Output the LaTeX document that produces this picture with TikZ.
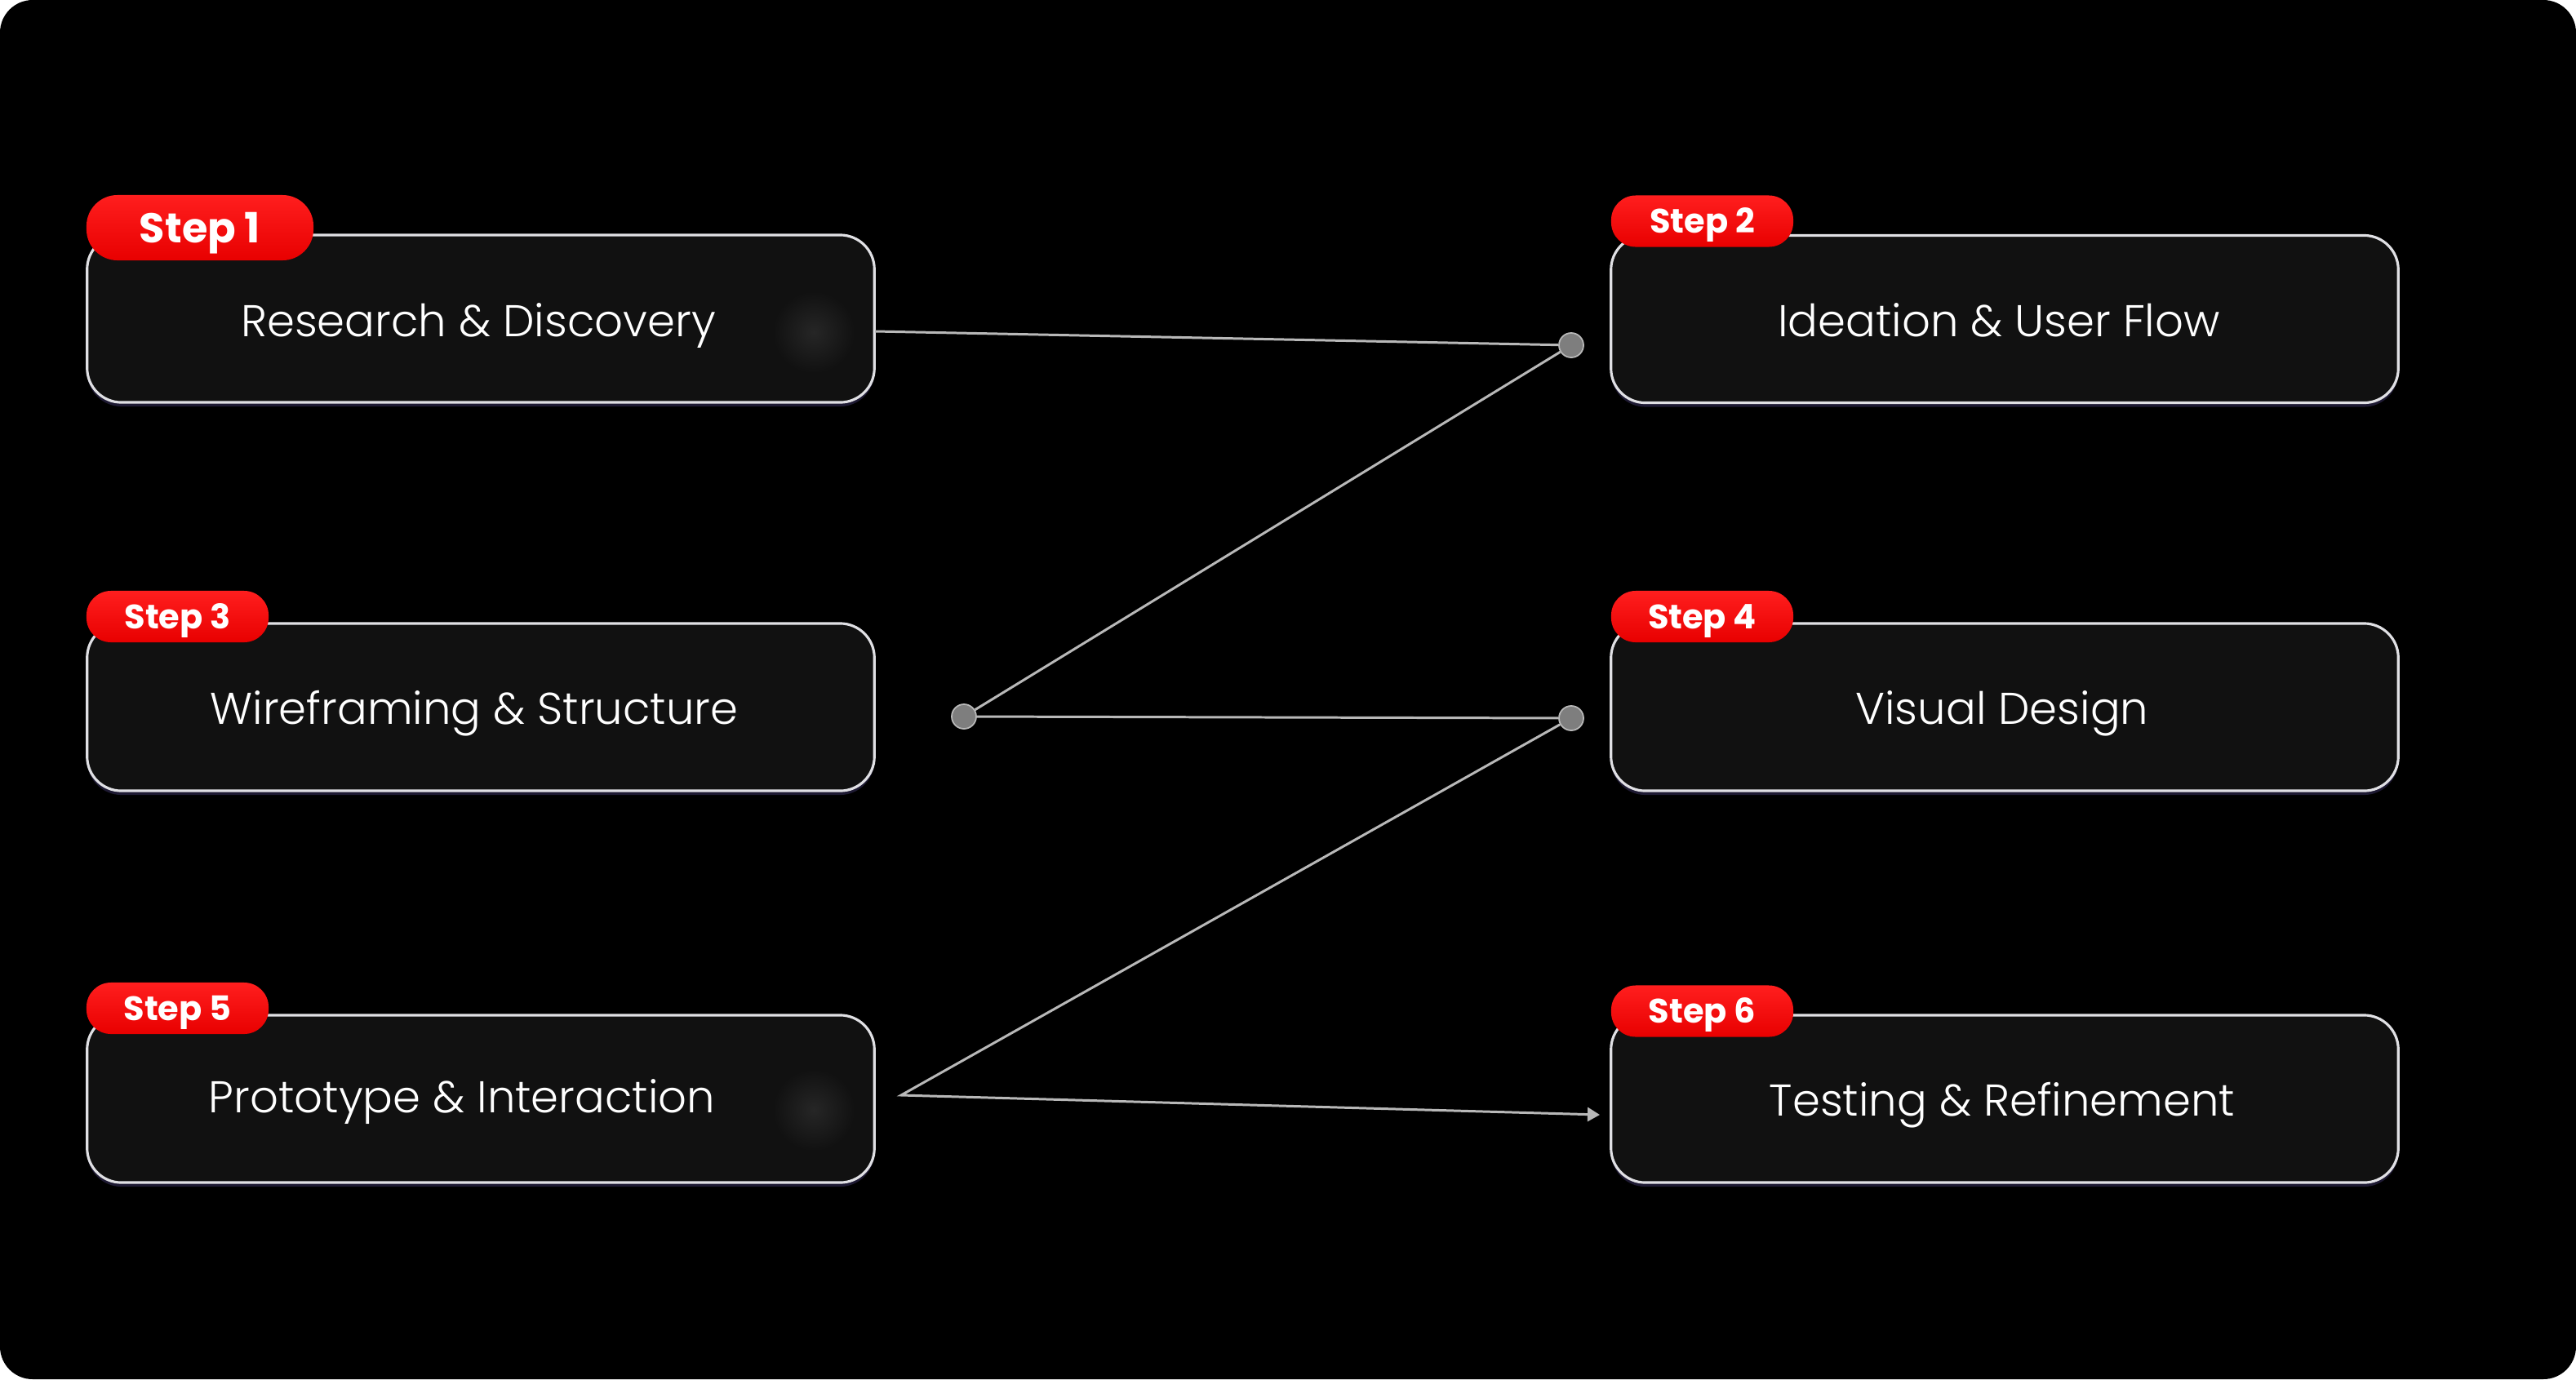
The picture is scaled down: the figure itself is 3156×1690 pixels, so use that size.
\documentclass[tikz,border=0pt]{standalone}
\usepackage{fontspec}
\setmainfont{Poppins}
\newfontfamily\lightfont{Poppins Light}
\usetikzlibrary{arrows.meta,shadows}
\definecolor{boxfill}{HTML}{111111}
\definecolor{boxline}{HTML}{E0E0E4}
\definecolor{connc}{HTML}{B8B8B8}
\definecolor{dotfill}{HTML}{7E7E7E}
\definecolor{redtop}{HTML}{FF1E1E}
\definecolor{redbot}{HTML}{E80000}
\definecolor{glowc}{HTML}{262626}
\definecolor{shadowc}{HTML}{1E1A33}
\begin{document}
\begin{tikzpicture}[x=0.01cm,y=-0.01cm,
  stepbox/.style={draw=boxline, line width=0.9pt, fill=boxfill, rounded corners=0.42cm,
    minimum width=9.64cm, minimum height=2.05cm, inner sep=0pt,
    drop shadow={shadow xshift=0cm, shadow yshift=-0.05cm, fill=shadowc, opacity=1}},
  badge/.style={rounded corners=0.3cm, top color=redtop, bottom color=redbot, draw=none,
    text=white, font=\bfseries\fontsize{11.8}{12}\selectfont,
    minimum width=2.23cm, minimum height=0.63cm, inner sep=0pt,
    text height=0.29cm, text depth=0pt},
  bigbadge/.style={badge, rounded corners=0.38cm, minimum width=2.78cm, minimum height=0.8cm,
    font=\bfseries\fontsize{14.5}{15}\selectfont, text height=0.36cm},
  steplabel/.style={text=white, font=\lightfont\fontsize{15.5}{18}\selectfont, anchor=base, inner sep=0pt},
  dotnode/.style={circle, fill=dotfill, draw=connc, line width=0.5pt, minimum size=0.3cm, inner sep=0pt},
  connline/.style={draw=connc, line width=0.85pt}
]
\useasboundingbox (0,0) rectangle (3156,1690);
\fill[white] (0,0) rectangle (3156,1690);
\fill[black, rounded corners=0.4cm] (0,0) rectangle (3156,1690);

% boxes
\node[stepbox] (b1) at (589,390.5) {};
\node[stepbox] (b3) at (589,866.5) {};
\node[stepbox] (b5) at (589,1346.5) {};
\node[stepbox] (b2) at (2456,391) {};
\node[stepbox] (b4) at (2456,866.5) {};
\node[stepbox] (b6) at (2456,1346.5) {};

% soft glow spots
\shade[inner color=glowc, outer color=boxfill] (997,407) circle (0.5cm);
\shade[inner color=glowc, outer color=boxfill] (997,1360) circle (0.5cm);

% labels
\node[steplabel] (t1) at (586,412) {Research \& Discovery};
\node[steplabel] (t3) at (581,887) {Wireframing \& Structure};
\node[steplabel] (t5) at (566,1363) {Prototype \& Interaction};
\node[steplabel] (t2) at (2449,412) {Ideation \& User Flow};
\node[steplabel] (t4) at (2453,887) {Visual Design};
\node[steplabel] (t6) at (2453,1367) {Testing \& Refinement};

% badges
\node[bigbadge] (s1) at (245,279) {Step 1};
\node[badge] (s2) at (2085.5,271) {Step 2};
\node[badge] (s3) at (217.5,755.5) {Step 3};
\node[badge] (s4) at (2085.5,755.5) {Step 4};
\node[badge] (s5) at (217.5,1235.5) {Step 5};
\node[badge] (s6) at (2085.5,1239) {Step 6};

% connectors
\coordinate (c1) at (1072,406);
\coordinate (k5) at (1104,1342);
\coordinate (a6) at (1960,1366);
\node[dotnode] (d2) at (1925,423) {};
\node[dotnode] (d3) at (1181,878) {};
\node[dotnode] (d4) at (1925,880) {};
\draw[connline] (c1) -- (d2);
\draw[connline] (d2) -- (d3);
\draw[connline] (d3) -- (d4);
\draw[connline, -{Triangle[length=0.15cm,width=0.17cm]}] (d4) -- (k5) -- (a6);
\end{tikzpicture}
\end{document}
